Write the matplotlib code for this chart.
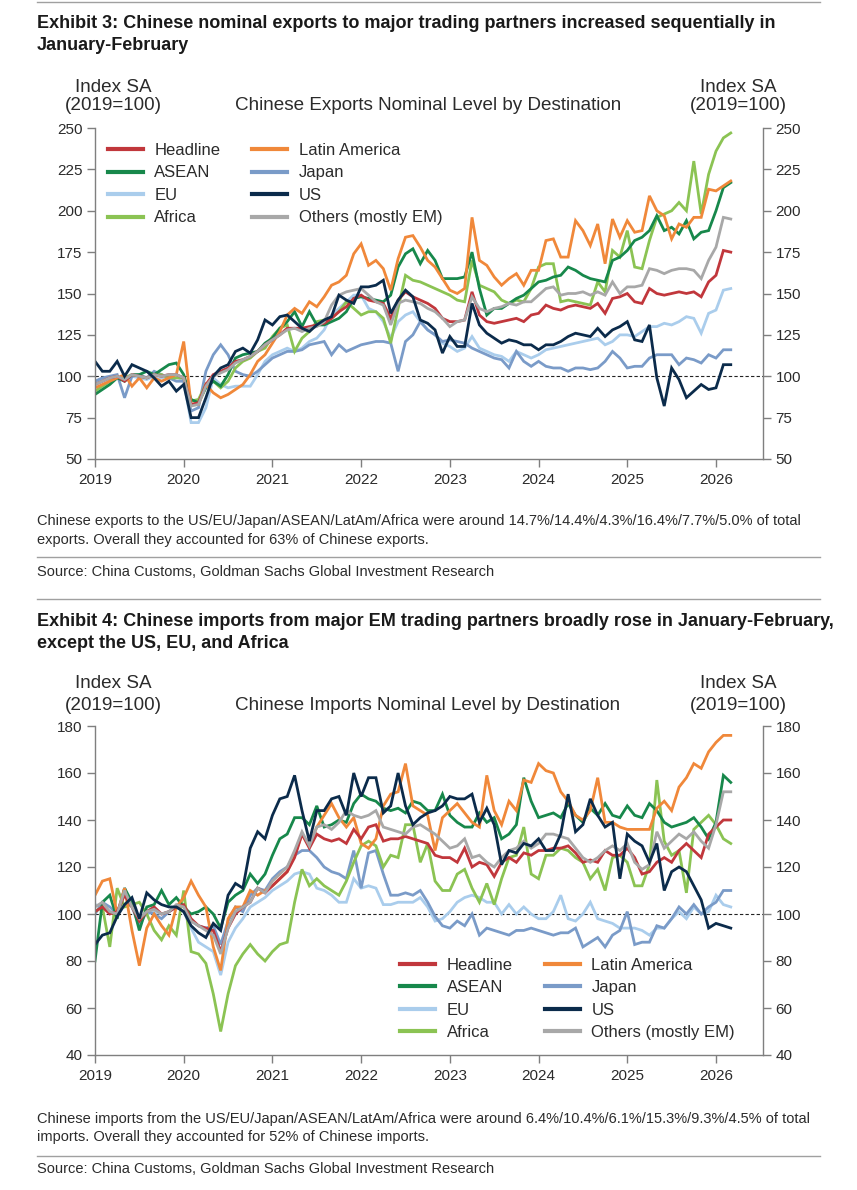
import matplotlib
matplotlib.use("Agg")
import matplotlib.pyplot as plt
from matplotlib import font_manager as fm
import numpy as np

avail = {f.name for f in fm.fontManager.ttflist}
NARROW = 'Liberation Sans Narrow' if 'Liberation Sans Narrow' in avail else 'Liberation Sans'
CHART = 'Liberation Sans'

# ---------------- data (monthly, Jan 2019 .. Mar 2026) ----------------
months = np.arange(87)
years = [2019, 2020, 2021, 2022, 2023, 2024, 2025, 2026]

exp_headline = [95, 97, 99, 100, 97, 101, 100, 99, 101, 100, 101, 101,
                99, 83, 84, 95, 101, 103, 105, 109, 110, 112, 115, 119,
                122, 125, 129, 129, 129, 130, 131, 132, 135, 139, 142, 147,
                149, 146, 145, 144, 135, 146, 151, 148, 146, 144, 141, 135,
                133, 133, 134, 151, 137, 133, 132, 133, 134, 135, 133, 137,
                138, 143, 141, 140, 142, 143, 142, 141, 144, 138, 147, 148,
                150, 145, 144, 153, 150, 149, 150, 151, 150, 151, 148, 157,
                161, 176, 175]
exp_latam = [93, 95, 97, 99, 101, 94, 99, 93, 99, 97, 99, 101,
             121, 83, 83, 95, 90, 87, 89, 92, 95, 101, 109, 113,
             120, 127, 137, 141, 138, 145, 142, 148, 155, 157, 161, 174,
             180, 167, 170, 165, 152, 171, 184, 185, 178, 170, 166, 159,
             152, 150, 153, 196, 170, 167, 160, 155, 159, 162, 155, 164,
             164, 182, 183, 172, 172, 194, 188, 179, 192, 168, 195, 184,
             194, 187, 188, 209, 200, 197, 183, 192, 190, 196, 196, 213,
             212, 215, 218]
exp_asean = [89, 92, 95, 99, 97, 101, 101, 103, 101, 104, 107, 108,
             101, 86, 84, 93, 97, 94, 101, 111, 113, 114, 115, 120,
             123, 129, 133, 139, 130, 139, 131, 131, 133, 135, 139, 147,
             148, 147, 146, 145, 149, 166, 174, 177, 168, 176, 170, 159,
             159, 159, 160, 175, 153, 137, 141, 141, 144, 147, 149, 153,
             157, 158, 160, 161, 166, 164, 161, 159, 158, 157, 170, 172,
             176, 182, 184, 188, 197, 188, 190, 186, 194, 183, 187, 188,
             200, 214, 217]
exp_japan = [97, 99, 100, 101, 87, 100, 101, 99, 103, 101, 99, 97,
             97, 79, 81, 103, 113, 119, 113, 103, 101, 100, 103, 107,
             111, 113, 115, 115, 116, 119, 120, 121, 113, 119, 115, 117,
             119, 120, 121, 121, 120, 103, 121, 125, 133, 128, 125, 121,
             122, 121, 120, 117, 115, 113, 111, 110, 105, 115, 109, 106,
             109, 106, 105, 105, 103, 105, 105, 104, 105, 109, 115, 111,
             105, 106, 106, 111, 113, 113, 113, 107, 111, 110, 108, 113,
             111, 116, 116]
exp_eu = [96, 98, 99, 100, 97, 100, 99, 98, 100, 99, 100, 100,
          97, 72, 72, 81, 99, 95, 93, 94, 94, 94, 101, 109,
          113, 115, 117, 115, 117, 121, 123, 128, 137, 141, 145, 149,
          149, 141, 139, 133, 123, 133, 137, 139, 133, 128, 125, 120,
          118, 115, 117, 124, 117, 115, 113, 112, 109, 115, 113, 111,
          113, 116, 117, 118, 119, 120, 121, 122, 123, 119, 121, 125,
          125, 124, 127, 130, 130, 132, 131, 133, 136, 135, 126, 138,
          140, 152, 153]
exp_us = [109, 103, 103, 109, 100, 107, 105, 103, 99, 94, 97, 91,
          95, 75, 75, 87, 100, 105, 107, 115, 117, 114, 122, 134,
          131, 136, 137, 133, 129, 127, 131, 134, 136, 149, 146, 144,
          154, 154, 155, 158, 138, 146, 152, 148, 134, 132, 128, 114,
          124, 118, 118, 144, 131, 126, 123, 120, 122, 121, 119, 119,
          116, 119, 119, 121, 124, 126, 125, 124, 129, 124, 128, 130,
          133, 122, 121, 131, 99, 82, 105, 98, 87, 91, 95, 92,
          93, 107, 107]
exp_africa = [91, 94, 97, 99, 99, 101, 100, 99, 101, 101, 99, 99,
              99, 85, 86, 95, 97, 93, 97, 105, 109, 111, 115, 117,
              124, 129, 131, 115, 123, 127, 133, 134, 135, 139, 145, 141,
              137, 139, 139, 135, 120, 141, 161, 158, 157, 155, 153, 151,
              149, 146, 145, 170, 155, 153, 151, 146, 144, 146, 145, 153,
              166, 168, 168, 145, 146, 145, 144, 143, 157, 151, 176, 172,
              188, 166, 165, 182, 196, 198, 200, 205, 200, 230, 198, 222,
              236, 244, 247]
exp_others = [95, 97, 99, 100, 98, 101, 100, 99, 101, 100, 101, 101,
              99, 82, 83, 94, 100, 102, 104, 108, 110, 112, 115, 119,
              122, 125, 128, 129, 127, 129, 130, 133, 143, 149, 151, 152,
              153, 149, 145, 143, 131, 144, 146, 145, 144, 141, 139, 135,
              130, 133, 134, 148, 141, 139, 141, 142, 144, 143, 145, 145,
              149, 153, 154, 149, 150, 150, 151, 149, 151, 149, 157, 150,
              154, 154, 155, 165, 164, 162, 164, 165, 165, 164, 159, 170,
              178, 196, 195]

imp_headline = [101, 103, 100, 101, 108, 103, 97, 101, 103, 100, 101, 103,
                104, 98, 95, 94, 93, 84, 94, 100, 103, 105, 111, 109,
                112, 115, 118, 124, 134, 128, 134, 132, 131, 132, 130, 136,
                132, 137, 138, 131, 132, 132, 133, 132, 131, 130, 125, 124,
                124, 122, 128, 120, 122, 121, 116, 122, 124, 122, 126, 125,
                127, 127, 128, 128, 129, 126, 122, 123, 122, 127, 125, 125,
                128, 124, 117, 118, 122, 124, 122, 127, 130, 127, 124, 134,
                137, 140, 140]
imp_latam = [108, 114, 115, 100, 111, 93, 78, 94, 100, 95, 91, 103,
             107, 114, 108, 103, 86, 76, 98, 103, 103, 110, 108, 110,
             112, 115, 118, 125, 134, 129, 137, 142, 147, 141, 137, 141,
             130, 128, 132, 146, 151, 152, 164, 146, 144, 142, 127, 141,
             144, 147, 143, 139, 137, 159, 144, 138, 148, 144, 157, 156,
             164, 161, 160, 152, 148, 142, 140, 144, 158, 139, 139, 137,
             136, 136, 136, 136, 145, 148, 144, 154, 158, 164, 162, 169,
             173, 176, 176]
imp_asean = [80, 105, 108, 98, 111, 105, 93, 103, 104, 110, 104, 107,
             103, 100, 101, 103, 100, 94, 105, 108, 110, 117, 113, 117,
             125, 132, 134, 141, 141, 138, 146, 137, 138, 140, 139, 147,
             151, 149, 148, 145, 144, 145, 143, 148, 147, 144, 144, 151,
             142, 139, 137, 137, 143, 139, 141, 132, 134, 138, 158, 148,
             141, 142, 143, 141, 147, 142, 139, 145, 142, 147, 142, 141,
             146, 142, 141, 147, 144, 139, 137, 138, 139, 141, 137, 132,
             139, 159, 156]
imp_japan = [100, 105, 103, 100, 111, 103, 95, 101, 100, 98, 101, 103,
             101, 97, 95, 94, 95, 87, 97, 103, 101, 108, 111, 110,
             115, 118, 120, 125, 127, 127, 124, 120, 118, 117, 115, 127,
             111, 126, 127, 117, 108, 108, 109, 108, 110, 105, 99, 95,
             94, 97, 95, 100, 91, 94, 93, 92, 91, 93, 93, 94,
             93, 92, 91, 92, 92, 94, 86, 88, 90, 86, 91, 93,
             101, 87, 88, 88, 95, 94, 98, 103, 100, 104, 100, 103,
             105, 110, 110]
imp_eu = [104, 103, 101, 100, 110, 103, 98, 100, 101, 100, 101, 103,
          101, 94, 88, 86, 84, 74, 88, 94, 98, 103, 105, 107,
          110, 112, 114, 117, 118, 117, 111, 110, 108, 105, 105, 115,
          111, 112, 111, 104, 104, 105, 105, 105, 107, 103, 97, 98,
          101, 105, 107, 108, 107, 105, 105, 100, 104, 100, 103, 100,
          98, 98, 101, 108, 98, 97, 100, 105, 98, 97, 96, 94,
          94, 94, 93, 91, 94, 94, 98, 101, 98, 103, 100, 101,
          108, 104, 103]
imp_us = [87, 91, 92, 99, 104, 107, 98, 109, 106, 104, 103, 103,
          101, 95, 92, 90, 96, 93, 108, 113, 111, 128, 135, 132,
          142, 149, 150, 159, 144, 131, 144, 144, 149, 150, 142, 160,
          150, 158, 158, 143, 146, 160, 146, 138, 141, 143, 144, 146,
          150, 149, 149, 151, 139, 145, 138, 121, 127, 126, 130, 129,
          132, 127, 127, 134, 151, 135, 138, 149, 142, 137, 139, 115,
          134, 131, 129, 122, 130, 110, 118, 120, 118, 112, 106, 94,
          96, 95, 94]
imp_africa = [101, 103, 86, 111, 103, 104, 105, 100, 93, 89, 95, 91,
              110, 84, 83, 79, 66, 50, 66, 78, 83, 87, 83, 80,
              84, 87, 88, 105, 119, 112, 115, 112, 110, 108, 114, 122,
              129, 131, 129, 120, 125, 124, 138, 138, 122, 130, 114, 110,
              110, 117, 119, 111, 105, 113, 104, 115, 124, 125, 137, 117,
              115, 125, 125, 128, 127, 124, 122, 115, 119, 110, 124, 125,
              122, 112, 112, 121, 157, 131, 125, 127, 109, 136, 139, 142,
              138, 132, 130]
imp_others = [103, 105, 101, 100, 110, 103, 98, 101, 102, 100, 101, 104,
              103, 97, 95, 93, 91, 83, 94, 101, 103, 105, 111, 109,
              114, 117, 120, 127, 135, 129, 137, 138, 136, 139, 144, 142,
              141, 142, 144, 137, 136, 135, 134, 137, 138, 136, 134, 131,
              128, 129, 132, 124, 125, 122, 120, 124, 127, 128, 131, 128,
              130, 134, 134, 133, 132, 128, 124, 122, 124, 127, 129, 127,
              130, 122, 119, 121, 135, 128, 131, 134, 132, 135, 131, 128,
              138, 152, 152]

series_names = ['Headline', 'ASEAN', 'EU', 'Africa',
                'Latin America', 'Japan', 'US', 'Others (mostly EM)']
colors = {'Headline': '#c1373c', 'ASEAN': '#17884b', 'EU': '#aacdec',
          'Africa': '#8bc353', 'Latin America': '#f0883a', 'Japan': '#7a9bc8',
          'US': '#0b2b4b', 'Others (mostly EM)': '#a8a8a8'}
draw_order = ['EU', 'Japan', 'Africa', 'ASEAN', 'Latin America',
              'Headline', 'Others (mostly EM)', 'US']

exp_data = {'Headline': exp_headline, 'ASEAN': exp_asean, 'EU': exp_eu,
            'Africa': exp_africa, 'Latin America': exp_latam,
            'Japan': exp_japan, 'US': exp_us, 'Others (mostly EM)': exp_others}
imp_data = {'Headline': imp_headline, 'ASEAN': imp_asean, 'EU': imp_eu,
            'Africa': imp_africa, 'Latin America': imp_latam,
            'Japan': imp_japan, 'US': imp_us, 'Others (mostly EM)': imp_others}

W, H = 857, 1190
fig = plt.figure(figsize=(W / 100, H / 100), dpi=100)
fig.patch.set_facecolor('white')

def fx(px):
    return px / W

def fy(py):
    return 1 - py / H

TXT = '#2b2b2b'
RULE = '#a0a0a0'
TITLE_FS = 13
NOTE_FS = 10.5
LAB_FS = 13.6

def hrule(py, x0=37, x1=820):
    fig.add_artist(plt.Line2D([fx(x0), fx(x1)], [fy(py), fy(py)],
                              color=RULE, lw=1.0))

def make_panel(ax_rect, data, ylim, yticks, legend_kw):
    ax = fig.add_axes(ax_rect)
    x = 2019 + months / 12.0
    handles = {}
    for name in draw_order:
        ln, = ax.plot(x, data[name], color=colors[name], lw=2.0,
                      solid_joinstyle='miter', label=name)
        handles[name] = ln
    ax.axhline(100, color='#222222', lw=0.8, ls=(0, (3, 2)), zorder=1)
    ax.set_xlim(2019, 2026.53)
    ax.set_ylim(*ylim)
    ax.set_yticks(yticks)
    ax.set_xticks(years)
    ax.set_xticklabels([str(y) for y in years])
    ax.spines['top'].set_visible(False)
    for s in ['left', 'right', 'bottom']:
        ax.spines[s].set_color('#7f7f7f')
        ax.spines[s].set_linewidth(1.0)
    ax.tick_params(axis='both', direction='out', length=6, width=1.0,
                   color='#7f7f7f', labelsize=11, labelcolor=TXT)
    ax.tick_params(axis='y', left=True, right=True, labelleft=True,
                   labelright=True, pad=3)
    ax.tick_params(axis='x', pad=4)
    for lab in ax.get_xticklabels() + ax.get_yticklabels():
        lab.set_fontfamily(CHART)
    hs = [handles[n] for n in series_names]
    leg = ax.legend(hs, series_names, ncol=2, frameon=False,
                    prop={'family': CHART, 'size': 12},
                    handlelength=2.1, handletextpad=0.7, columnspacing=1.9,
                    labelspacing=0.45, borderpad=0, borderaxespad=0,
                    **legend_kw)
    for t in leg.get_texts():
        t.set_color(TXT)
    for l in leg.get_lines():
        l.set_linewidth(3.0)
    return ax

def axis_labels(y1, y2, title):
    for xc in (113, 738):
        fig.text(fx(xc), fy(y1), 'Index SA', family=CHART, fontsize=LAB_FS,
                 color=TXT, ha='center', va='center')
        fig.text(fx(xc), fy(y2), '(2019=100)', family=CHART, fontsize=LAB_FS,
                 color=TXT, ha='center', va='center')
    fig.text(fx(428), fy(y2), title, family=CHART, fontsize=LAB_FS,
             color=TXT, ha='center', va='center')

# ---------------- top panel ----------------
hrule(2, 37, 820)
fig.text(fx(37), fy(23), 'Exhibit 3: Chinese nominal exports to major trading partners increased sequentially in',
         family=NARROW, weight='bold', fontsize=TITLE_FS, color='#1a1a1a', va='center', ha='left')
fig.text(fx(37), fy(45), 'January-February',
         family=NARROW, weight='bold', fontsize=TITLE_FS, color='#1a1a1a', va='center', ha='left')

axis_labels(88, 106, 'Chinese Exports Nominal Level by Destination')

make_panel([fx(95), fy(459), fx(763) - fx(95), fy(128) - fy(459)], exp_data,
           (50, 250), [50, 75, 100, 125, 150, 175, 200, 225, 250],
           dict(loc='upper left', bbox_to_anchor=(0.019, 0.955)))

fig.text(fx(37), fy(521), 'Chinese exports to the US/EU/Japan/ASEAN/LatAm/Africa were around 14.7%/14.4%/4.3%/16.4%/7.7%/5.0% of total',
         family=NARROW, fontsize=NOTE_FS, color=TXT, va='center', ha='left')
fig.text(fx(37), fy(540), 'exports. Overall they accounted for 63% of Chinese exports.',
         family=NARROW, fontsize=NOTE_FS, color=TXT, va='center', ha='left')
hrule(557)
fig.text(fx(37), fy(572), 'Source: China Customs, Goldman Sachs Global Investment Research',
         family=NARROW, fontsize=NOTE_FS, color=TXT, va='center', ha='left')
hrule(599)

# ---------------- bottom panel ----------------
fig.text(fx(37), fy(621), 'Exhibit 4: Chinese imports from major EM trading partners broadly rose in January-February,',
         family=NARROW, weight='bold', fontsize=TITLE_FS, color='#1a1a1a', va='center', ha='left')
fig.text(fx(37), fy(643), 'except the US, EU, and Africa',
         family=NARROW, weight='bold', fontsize=TITLE_FS, color='#1a1a1a', va='center', ha='left')

axis_labels(683, 705, 'Chinese Imports Nominal Level by Destination')

make_panel([fx(95), fy(1055), fx(763) - fx(95), fy(726) - fy(1055)], imp_data,
           (40, 180), [40, 60, 80, 100, 120, 140, 160, 180],
           dict(loc='lower right', bbox_to_anchor=(0.958, 0.045)))

fig.text(fx(37), fy(1119), 'Chinese imports from the US/EU/Japan/ASEAN/LatAm/Africa were around 6.4%/10.4%/6.1%/15.3%/9.3%/4.5% of total',
         family=NARROW, fontsize=NOTE_FS, color=TXT, va='center', ha='left')
fig.text(fx(37), fy(1137), 'imports. Overall they accounted for 52% of Chinese imports.',
         family=NARROW, fontsize=NOTE_FS, color=TXT, va='center', ha='left')
hrule(1156)
fig.text(fx(37), fy(1169), 'Source: China Customs, Goldman Sachs Global Investment Research',
         family=NARROW, fontsize=NOTE_FS, color=TXT, va='center', ha='left')

fig.savefig('out.png', dpi=100, facecolor='white')
